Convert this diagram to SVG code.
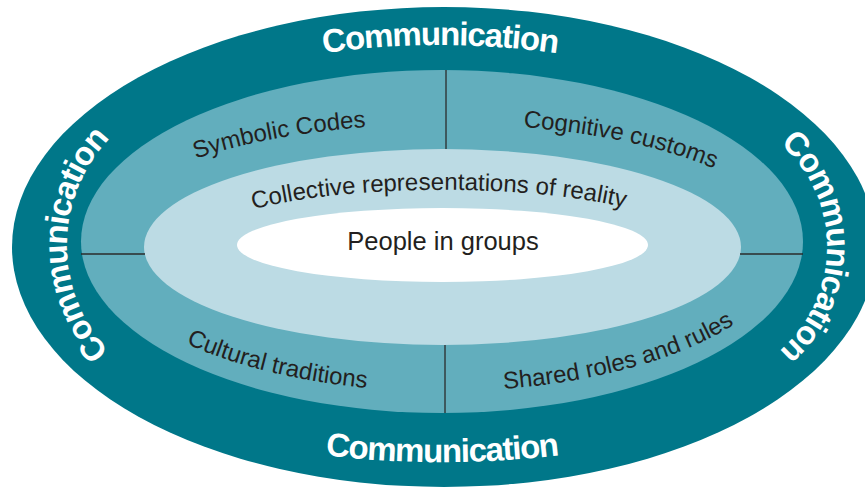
<svg xmlns="http://www.w3.org/2000/svg" xmlns:xlink="http://www.w3.org/1999/xlink" width="865" height="488" viewBox="0 0 865 488">
  <style>
    .comm { font-family: "Liberation Sans", Arial, sans-serif; font-weight: bold; font-size: 33px; letter-spacing: -1.2px; fill: #ffffff; }
    .lbl { font-family: "Liberation Sans", Arial, sans-serif; font-size: 24px; fill: #231f20; }
    .core { font-size: 25.5px; }
    .div { stroke: #2b2b2b; stroke-width: 1.3; fill: none; }
  </style>
  <defs>
    <path id="pTop" d="M 300,56.9 A 830 830 0 0 1 580,56.9"/>
    <path id="pBottom" d="M 300,452 A 1000 1000 0 0 0 584,452"/>
    <path id="pLeft" d="M 144,378.4 A 154 154 0 0 1 144,111.6"/>
    <path id="pRight" d="M 758.5,128.4 A 137 137 0 0 1 758.5,365.6"/>
    <path id="pSym" d="M 195,159 A 346 117 0 0 1 367,127"/>
    <path id="pCog" d="M 522,127 A 346 117 0 0 1 715,169"/>
    <path id="pCul" d="M 185,343 A 352 150 0 0 0 368,388"/>
    <path id="pSha" d="M 503,389 A 352 150 0 0 0 735,324"/>
    <path id="pCol" d="M 248,211 A 240 51 0 0 1 630,209"/>
  </defs>
  <rect width="865" height="488" fill="#ffffff"/>

  <g id="communication">
    <ellipse cx="444" cy="247" rx="432" ry="240" fill="#007789"/>
  </g>
  <g id="culture-ring">
    <ellipse cx="442" cy="241.5" rx="361" ry="171.5" fill="#62aebd"/>
  </g>
  <g id="collective-representations">
    <ellipse cx="442.5" cy="247" rx="298.5" ry="98" fill="#bcdbe4"/>
  </g>
  <g id="people-in-groups">
    <ellipse cx="442.5" cy="245" rx="205.5" ry="37" fill="#ffffff"/>
    <text class="lbl core" x="443" y="250" text-anchor="middle">People in groups</text>
  </g>

  <g id="connectors">
    <line class="div" x1="446" y1="70" x2="446" y2="149"/>
    <line class="div" x1="445" y1="345" x2="445" y2="413"/>
    <line class="div" x1="81" y1="254" x2="145" y2="254"/>
    <line class="div" x1="740" y1="254" x2="803" y2="254"/>
  </g>

  <g id="communication-labels">
    <text class="comm"><textPath xlink:href="#pTop" href="#pTop" startOffset="50%" text-anchor="middle">Communication</textPath></text>
    <text class="comm"><textPath xlink:href="#pBottom" href="#pBottom" startOffset="50%" text-anchor="middle">Communication</textPath></text>
    <text class="comm"><textPath xlink:href="#pLeft" href="#pLeft" startOffset="50%" text-anchor="middle">Communication</textPath></text>
    <text class="comm"><textPath xlink:href="#pRight" href="#pRight" startOffset="50%" text-anchor="middle">Communication</textPath></text>
  </g>

  <g id="symbolic-codes">
    <text class="lbl"><textPath xlink:href="#pSym" href="#pSym" startOffset="50%" text-anchor="middle">Symbolic Codes</textPath></text>
  </g>
  <g id="cognitive-customs">
    <text class="lbl"><textPath xlink:href="#pCog" href="#pCog" startOffset="50%" text-anchor="middle">Cognitive customs</textPath></text>
  </g>
  <g id="cultural-traditions">
    <text class="lbl"><textPath xlink:href="#pCul" href="#pCul" startOffset="50%" text-anchor="middle">Cultural traditions</textPath></text>
  </g>
  <g id="shared-roles">
    <text class="lbl"><textPath xlink:href="#pSha" href="#pSha" startOffset="50%" text-anchor="middle">Shared roles and rules</textPath></text>
  </g>
  <g id="collective-label">
    <text class="lbl"><textPath xlink:href="#pCol" href="#pCol" startOffset="50%" text-anchor="middle">Collective representations of reality</textPath></text>
  </g>
</svg>
